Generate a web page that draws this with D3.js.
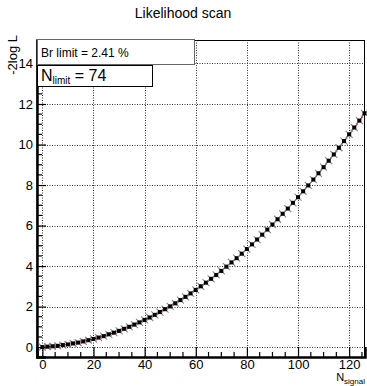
<!DOCTYPE html>
<html>
<head>
<meta charset="utf-8">
<script src="https://cdn.jsdelivr.net/npm/d3@7"></script>
<style>
  body { margin: 0; background: #fff; }
  text { font-family: "Liberation Sans", Arial, sans-serif; }
</style>
</head>
<body>
<script>
(function(){
  //data: N_signal values and -2log L values
  var nSignal = [0, 2, 4, 6, 8, 10, 12, 14, 16, 18, 20, 22, 24, 26, 28, 30, 32, 34, 36, 38,
                 40, 42, 44, 46, 48, 50, 52, 54, 56, 58, 60, 62, 64, 66, 68, 70, 72, 74, 76, 78,
                 80, 82, 84, 86, 88, 90, 92, 94, 96, 98, 100, 102, 104, 106, 108, 110, 112, 114,
                 116, 118, 120, 122, 124, 126];
  var logL = [0, 0.02, 0.04, 0.06, 0.10, 0.13, 0.18, 0.22, 0.28, 0.34, 0.40, 0.47, 0.54, 0.63,
              0.71, 0.80, 0.90, 1.00, 1.11, 1.22, 1.34, 1.46, 1.59, 1.73, 1.87, 2.01, 2.16, 2.32,
              2.48, 2.65, 2.82, 3.00, 3.18, 3.37, 3.56, 3.76, 3.97, 4.18, 4.39, 4.61, 4.84, 5.07,
              5.31, 5.55, 5.80, 6.05, 6.31, 6.58, 6.84, 7.12, 7.40, 7.69, 7.98, 8.27, 8.58, 8.88,
              9.20, 9.51, 9.84, 10.17, 10.50, 10.84, 11.18, 11.54];
  var xTicks = [0, 20, 40, 60, 80, 100, 120];
  var yTicks = [0, 2, 4, 6, 8, 10, 12, 14];
  var titleText = "Likelihood scan";
  var brText = "Br limit = 2.41 %";
  var nLimit = "74";

  var width = 367, height = 386;
  //frame edges
  var left = 37, right = 365, top = 40, bottom = 357;

  var svg = d3.select("body").append("svg")
      .attr("width", width)
      .attr("height", height);

  var x = d3.scaleLinear().domain([-2.1, 126.2]).range([left, right]);
  var y = d3.scaleLinear().domain([-0.49, 15.16]).range([bottom, top]);

  //title
  svg.append("text")
      .attr("x", 183).attr("y", 18)
      .attr("text-anchor", "middle")
      .attr("font-size", 14)
      .text(titleText);

  //dotted grid
  var grid = svg.append("g").attr("class", "grid");
  grid.selectAll(".gx").data(xTicks).enter().append("line")
      .attr("x1", function(d){ return Math.round(x(d)) + 0.5; })
      .attr("x2", function(d){ return Math.round(x(d)) + 0.5; })
      .attr("y1", top).attr("y2", bottom)
      .attr("stroke", "#333").attr("stroke-width", 1).attr("stroke-dasharray", "1,1.5");
  grid.selectAll(".gy").data(yTicks).enter().append("line")
      .attr("y1", function(d){ return Math.round(y(d)) + 0.5; })
      .attr("y2", function(d){ return Math.round(y(d)) + 0.5; })
      .attr("x1", left).attr("x2", right)
      .attr("stroke", "#333").attr("stroke-width", 1).attr("stroke-dasharray", "1,1.5");

  //thin frame on top and right
  svg.append("rect")
      .attr("x", left).attr("y", top + 0.5)
      .attr("width", right - left - 0.5).attr("height", bottom - top)
      .attr("fill", "none").attr("stroke", "#000").attr("stroke-width", 1);

  //x axis, ticks pointing inwards
  var xAxis = d3.axisBottom(x)
      .tickValues(xTicks)
      .tickSize(-10)
      .tickPadding(3)
      .tickFormat(d3.format("d"));
  var gx = svg.append("g")
      .attr("transform", "translate(0," + bottom + ")")
      .call(xAxis);
  gx.select(".domain").attr("stroke-width", 2.5);
  gx.selectAll(".tick line").attr("stroke-width", 1.2);
  gx.selectAll("text").attr("font-size", 13).attr("fill", "#000")
      .attr("font-family", "Liberation Sans, Arial, sans-serif");
  //x minor ticks
  gx.selectAll(".minor").data(d3.range(0, 126, 5).filter(function(d){ return d % 20 != 0; }))
      .enter().append("line")
      .attr("x1", function(d){ return x(d); }).attr("x2", function(d){ return x(d); })
      .attr("y1", 0).attr("y2", -5)
      .attr("stroke", "#000").attr("stroke-width", 1.2);

  //y axis, ticks pointing inwards
  var yAxis = d3.axisLeft(y)
      .tickValues(yTicks)
      .tickSize(-9)
      .tickPadding(4)
      .tickFormat(d3.format("d"));
  var gy = svg.append("g")
      .attr("transform", "translate(" + left + ",0)")
      .call(yAxis);
  gy.select(".domain").attr("stroke-width", 2.5);
  gy.selectAll(".tick line").attr("stroke-width", 1.2);
  gy.selectAll("text").attr("font-size", 13).attr("fill", "#000")
      .attr("font-family", "Liberation Sans, Arial, sans-serif");
  //y minor ticks
  gy.selectAll(".minor").data(d3.range(-0.5, 15.1, 0.5).filter(function(d){ return d % 2 != 0; }))
      .enter().append("line")
      .attr("y1", function(d){ return y(d); }).attr("y2", function(d){ return y(d); })
      .attr("x1", 0).attr("x2", 5)
      .attr("stroke", "#000").attr("stroke-width", 1.2);

  //axis titles
  svg.append("text")
      .attr("transform", "translate(17,35) rotate(-90)")
      .attr("text-anchor", "end")
      .attr("font-size", 13)
      .text("-2log L");
  var xt = svg.append("text")
      .attr("x", 365).attr("y", 381)
      .attr("text-anchor", "end")
      .attr("font-size", 11);
  xt.append("tspan").text("N");
  xt.append("tspan").attr("font-size", 8).attr("dy", 3).text("signal");

  //scan points joined by a red line
  var pts = nSignal.map(function(d, i){ return [d, logL[i]]; });
  var line = d3.line()
      .x(function(d){ return x(d[0]); })
      .y(function(d){ return y(d[1]); });
  svg.append("path")
      .datum(pts)
      .attr("d", line)
      .attr("fill", "none")
      .attr("stroke", "#d00000")
      .attr("stroke-width", 1);

  var marks = svg.selectAll(".pt").data(pts).enter().append("g")
      .attr("transform", function(d){ return "translate(" + x(d[0]) + "," + y(d[1]) + ")"; });
  marks.append("path")
      .attr("d", "M-3.5,-3.5L3.5,3.5M-3.5,3.5L3.5,-3.5")
      .attr("stroke", "#888").attr("stroke-width", 1.1);
  marks.append("rect")
      .attr("x", -2).attr("y", -2)
      .attr("width", 4).attr("height", 4)
      .attr("fill", "#000");

  //limit boxes
  svg.append("rect")
      .attr("x", 37.5).attr("y", 39.5).attr("width", 157).attr("height", 25)
      .attr("fill", "#fff").attr("stroke", "#666");
  svg.append("text")
      .attr("x", 41).attr("y", 57)
      .attr("font-size", 12)
      .text(brText);
  svg.append("rect")
      .attr("x", 37.5).attr("y", 65.5).attr("width", 115).attr("height", 21)
      .attr("fill", "#fff").attr("stroke", "#000");
  var nt = svg.append("text")
      .attr("x", 41).attr("y", 81)
      .attr("font-size", 16);
  nt.append("tspan").text("N");
  nt.append("tspan").attr("font-size", 10).attr("dy", 3).text("limit");
  nt.append("tspan").attr("dy", -3).text(" = " + nLimit);
})();
</script>
</body>
</html>
